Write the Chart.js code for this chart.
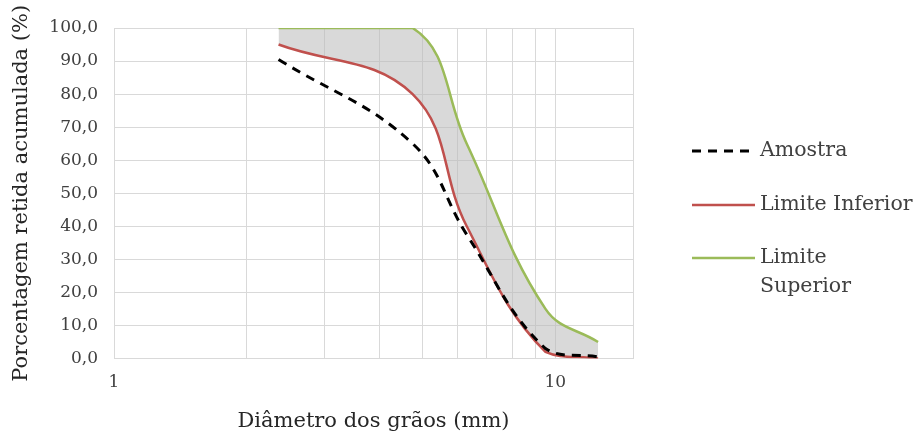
<!DOCTYPE html>
<html>
<head>
<meta charset="utf-8">
<script src="https://cdn.jsdelivr.net/npm/chart.js@4.4.1/dist/chart.umd.min.js"></script>
<style>
    html, body { margin: 0; padding: 0; background: #ffffff; }
    #wrap { width: 919px; height: 437px; position: relative; }
</style>
</head>
<body>
<div id="wrap"><canvas id="chart"></canvas></div>
<script>
// -----------------------------
// DATA
// -----------------------------
const sieves = [2.36, 4.75, 6.3, 9.5, 12.5];          // abertura das peneiras (mm)
const amostra = [90.5, 65.0, 37.5, 3.0, 0.5];
const limiteInferior = [95, 80, 40, 2, 0];
const limiteSuperior = [100, 100, 65, 15, 5];

const xTicks = [1, 2, 3, 4, 5, 6, 7, 8, 9, 10, 15];
const xLabels = [1, 10];
const yTicks = [0, 10, 20, 30, 40, 50, 60, 70, 80, 90, 100];

const serif = "'DejaVu Serif', 'Liberation Serif', serif";


function toPoints(values) {
    return sieves.map((x, i) => ({ x: x, y: values[i] }));
}


// -----------------------------
// LEGEND (right side, wraps long labels)
// -----------------------------
const sideLegend = {
    id: "sideLegend",
    afterDraw(chart) {
        const ctx = chart.ctx;
        const x0 = 692, x1 = 755, textX = 760;
        const rows = [151, 205, 258];
        const maxWidth = 156;
        const lineH = 29;

        ctx.save();
        ctx.font = "20.5px " + serif;
        ctx.textBaseline = "middle";
        ctx.textAlign = "left";

        chart.data.datasets.forEach((ds, i) => {
            const y = rows[i];

            ctx.beginPath();
            ctx.strokeStyle = ds.borderColor;
            ctx.lineWidth = ds.borderWidth;
            ctx.setLineDash(ds.borderDash || []);
            ctx.moveTo(x0, y);
            ctx.lineTo(x1, y);
            ctx.stroke();
            ctx.setLineDash([]);

            // simple word wrap
            const words = ds.label.split(" ");
            const lines = [];
            let line = "";
            words.forEach(w => {
                const test = line ? line + " " + w : w;
                if (ctx.measureText(test).width > maxWidth && line) {
                    lines.push(line);
                    line = w;
                } else {
                    line = test;
                }
            });
            lines.push(line);

            ctx.fillStyle = "#404040";
            lines.forEach((l, k) => ctx.fillText(l, textX, y + k * lineH));
        });
        ctx.restore();
    }
};


// -----------------------------
// CHART
// -----------------------------
const ctx = document.getElementById("chart").getContext("2d");

new Chart(ctx, {
    type: "line",
    data: {
        datasets: [
            {
                label: "Amostra",
                data: toPoints(amostra),
                borderColor: "#000000",
                borderWidth: 3,
                borderDash: [9, 7],
                pointRadius: 0,
                tension: 0.4,
                fill: false
            },
            {
                label: "Limite Inferior",
                data: toPoints(limiteInferior),
                borderColor: "#c0504d",
                borderWidth: 2.5,
                pointRadius: 0,
                tension: 0.4,
                fill: false
            },
            {
                label: "Limite Superior",
                data: toPoints(limiteSuperior),
                borderColor: "#9bbb59",
                borderWidth: 2.5,
                pointRadius: 0,
                tension: 0.4,
                fill: { target: 1 },
                backgroundColor: "rgba(185, 185, 185, 0.55)"
            }
        ]
    },
    options: {
        responsive: true,
        maintainAspectRatio: false,
        animation: false,
        layout: {
            padding: { left: 0, top: 28, right: 286, bottom: 0 }
        },
        plugins: {
            legend: { display: false },
            tooltip: { enabled: false }
        },
        scales: {
            x: {
                type: "logarithmic",
                min: 1,
                max: 15,
                afterBuildTicks(scale) {
                    scale.ticks = xTicks.map(v => ({ value: v }));
                },
                afterFit(scale) {
                    scale.height = 78.5;
                },
                ticks: {
                    autoSkip: false,
                    maxRotation: 0,
                    padding: 14,
                    color: "#404040",
                    font: { family: serif, size: 17 },
                    callback: (v) => xLabels.includes(v) ? String(v) : ""
                },
                grid: {
                    color: "#d9d9d9",
                    lineWidth: 1,
                    drawTicks: false
                },
                border: { display: true, color: "#d9d9d9" },
                title: {
                    display: true,
                    text: "Diâmetro dos grãos (mm)",
                    color: "#262626",
                    font: { family: serif, size: 21 },
                    padding: { top: 0, bottom: 3 }
                }
            },
            y: {
                min: 0,
                max: 100,
                afterBuildTicks(scale) {
                    scale.ticks = yTicks.map(v => ({ value: v }));
                },
                afterFit(scale) {
                    scale.width = 114;
                },
                ticks: {
                    padding: 16,
                    color: "#404040",
                    font: { family: serif, size: 17 },
                    callback: (v) => v.toFixed(1).replace(".", ",")
                },
                grid: {
                    color: "#d9d9d9",
                    lineWidth: 1,
                    drawTicks: false
                },
                border: { display: true, color: "#d9d9d9" },
                title: {
                    display: true,
                    text: "Porcentagem retida acumulada (%)",
                    color: "#262626",
                    font: { family: serif, size: 21 },
                    padding: { top: 9, bottom: 0 }
                }
            }
        }
    },
    plugins: [sideLegend]
});
</script>
</body>
</html>
